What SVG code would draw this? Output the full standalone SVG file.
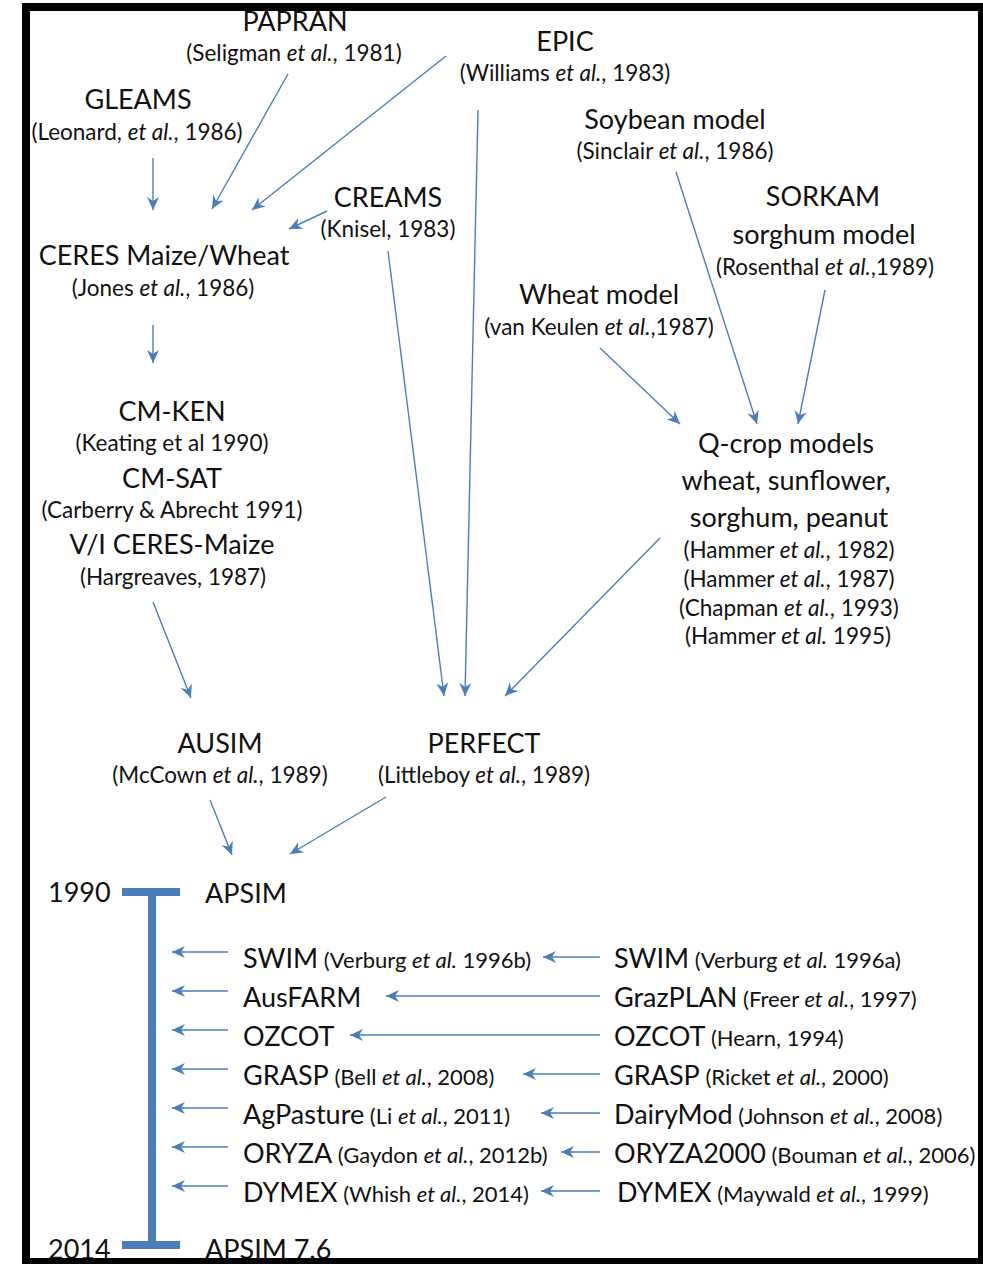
<svg xmlns="http://www.w3.org/2000/svg" width="983" height="1264" viewBox="0 0 983 1264">
<defs>
<style>
text{font-family:Lato,"Liberation Sans",sans-serif;fill:#111;}
.t{font-size:27px;}
.c{font-size:22.5px;}
.s{font-size:22px;}
.m{text-anchor:middle;}
.i{font-style:italic;}
.ln{fill:none;stroke:#4a7ebb;stroke-width:1.4;marker-end:url(#ah);}
.bar{fill:#4a7ebb;}
</style>
<marker id="ah" markerUnits="userSpaceOnUse" markerWidth="16" markerHeight="14" refX="13" refY="7" orient="auto">
<path d="M0,1 L13,7 L0,13 L4,7 Z" fill="#4a7ebb"/>
</marker>
</defs>
<rect width="983" height="1264" fill="#fff"/>

<g id="papran"><text class="t m" x="295" y="31">PAPRAN</text><text class="c m" x="294" y="61">(Seligman <tspan class="i">et al.</tspan>, 1981)</text></g>
<g id="gleams"><text class="t m" x="138" y="109">GLEAMS</text><text class="c m" x="137" y="140">(Leonard, <tspan class="i">et al.</tspan>, 1986)</text></g>
<g id="epic"><text class="t m" x="565" y="51">EPIC</text><text class="c m" x="565" y="81">(Williams <tspan class="i">et al.</tspan>, 1983)</text></g>
<g id="soybean"><text class="t m" x="675" y="129">Soybean model</text><text class="c m" x="675" y="159">(Sinclair <tspan class="i">et al.</tspan>, 1986)</text></g>
<g id="sorkam"><text class="t m" x="823" y="206">SORKAM</text><text class="t m" x="824" y="244">sorghum model</text><text class="c m" x="825" y="275">(Rosenthal <tspan class="i">et al.</tspan>,1989)</text></g>
<g id="wheat"><text class="t m" x="599" y="304">Wheat model</text><text class="c m" x="599" y="335">(van Keulen <tspan class="i">et al.</tspan>,1987)</text></g>
<g id="creams"><text class="t m" x="388" y="207">CREAMS</text><text class="c m" x="388" y="237">(Knisel, 1983)</text></g>
<g id="ceres"><text class="t m" x="164" y="265">CERES Maize/Wheat</text><text class="c m" x="163" y="296">(Jones <tspan class="i">et al.</tspan>, 1986)</text></g>
<g id="cm"><text class="t m" x="172" y="421">CM-KEN</text><text class="c m" x="172" y="451">(Keating et al 1990)</text><text class="t m" x="172" y="488">CM-SAT</text><text class="c m" x="172" y="518">(Carberry &amp; Abrecht 1991)</text><text class="t m" x="172" y="554">V/I CERES-Maize</text><text class="c m" x="173" y="585">(Hargreaves, 1987)</text></g>
<g id="qcrop"><text class="t m" x="786" y="453">Q-crop models</text><text class="t m" x="786" y="490">wheat, sunflower,</text><text class="t m" x="789" y="527">sorghum, peanut</text><text class="c m" x="789" y="558">(Hammer <tspan class="i">et al.</tspan>, 1982)</text><text class="c m" x="789" y="587">(Hammer <tspan class="i">et al.</tspan>, 1987)</text><text class="c m" x="789" y="616">(Chapman <tspan class="i">et al.</tspan>, 1993)</text><text class="c m" x="788" y="644">(Hammer <tspan class="i">et al.</tspan> 1995)</text></g>
<g id="ausim"><text class="t m" x="220" y="753">AUSIM</text><text class="c m" x="220" y="783">(McCown <tspan class="i">et al.</tspan>, 1989)</text></g>
<g id="perfect"><text class="t m" x="484" y="753">PERFECT</text><text class="c m" x="484" y="783">(Littleboy <tspan class="i">et al.</tspan>, 1989)</text></g>

<g id="timeline">
<rect class="bar" x="148" y="888" width="8" height="360"/>
<rect class="bar" x="122" y="888" width="58" height="8"/>
<rect class="bar" x="122" y="1241" width="58" height="8"/>
<text class="t" x="48" y="902">1990</text>
<text class="t" x="205" y="903">APSIM</text>
<text class="t" x="48" y="1259">2014</text>
<text class="t" x="205" y="1259">APSIM 7.6</text>
</g>

<g id="left-modules">
<text x="243" y="968"><tspan class="t">SWIM</tspan><tspan class="s"> (Verburg <tspan class="i">et al.</tspan> 1996b)</tspan></text>
<text x="243" y="1007"><tspan class="t">AusFARM</tspan></text>
<text x="243" y="1046"><tspan class="t">OZCOT</tspan></text>
<text x="243" y="1085"><tspan class="t">GRASP</tspan><tspan class="s"> (Bell <tspan class="i">et al.</tspan>, 2008)</tspan></text>
<text x="243" y="1124"><tspan class="t">AgPasture</tspan><tspan class="s"> (Li <tspan class="i">et al.</tspan>, 2011)</tspan></text>
<text x="243" y="1163"><tspan class="t">ORYZA</tspan><tspan class="s"> (Gaydon <tspan class="i">et al.</tspan>, 2012b)</tspan></text>
<text x="243" y="1202"><tspan class="t">DYMEX</tspan><tspan class="s"> (Whish <tspan class="i">et al.</tspan>, 2014)</tspan></text>
</g>
<g id="right-modules">
<text x="614" y="968"><tspan class="t">SWIM</tspan><tspan class="s"> (Verburg <tspan class="i">et al.</tspan> 1996a)</tspan></text>
<text x="614" y="1007"><tspan class="t">GrazPLAN</tspan><tspan class="s"> (Freer <tspan class="i">et al.</tspan>, 1997)</tspan></text>
<text x="614" y="1046"><tspan class="t">OZCOT</tspan><tspan class="s"> (Hearn, 1994)</tspan></text>
<text x="614" y="1085"><tspan class="t">GRASP</tspan><tspan class="s"> (Ricket <tspan class="i">et al.</tspan>, 2000)</tspan></text>
<text x="614" y="1124"><tspan class="t">DairyMod</tspan><tspan class="s"> (Johnson <tspan class="i">et al.</tspan>, 2008)</tspan></text>
<text x="614" y="1163"><tspan class="t">ORYZA2000</tspan><tspan class="s"> (Bouman <tspan class="i">et al.</tspan>, 2006)</tspan></text>
<text x="617" y="1202"><tspan class="t">DYMEX</tspan><tspan class="s"> (Maywald <tspan class="i">et al.</tspan>, 1999)</tspan></text>
</g>

<g id="connectors">
<line class="ln" x1="153" y1="158" x2="153" y2="210"/>
<line class="ln" x1="288" y1="74" x2="212" y2="209"/>
<line class="ln" x1="446" y1="56" x2="252" y2="210"/>
<line class="ln" x1="327" y1="211" x2="289" y2="229"/>
<line class="ln" x1="153" y1="325" x2="153" y2="363"/>
<line class="ln" x1="388" y1="251" x2="444" y2="696"/>
<line class="ln" x1="478" y1="110" x2="465" y2="696"/>
<line class="ln" x1="660" y1="538" x2="505" y2="696"/>
<line class="ln" x1="600" y1="348" x2="680" y2="424"/>
<line class="ln" x1="676" y1="172" x2="757" y2="424"/>
<line class="ln" x1="825" y1="290" x2="798" y2="424"/>
<line class="ln" x1="153" y1="602" x2="191" y2="698"/>
<line class="ln" x1="210" y1="800" x2="232" y2="855"/>
<line class="ln" x1="386" y1="797" x2="290" y2="854"/>
<line class="ln" x1="228" y1="952" x2="172" y2="952"/>
<line class="ln" x1="228" y1="991" x2="172" y2="991"/>
<line class="ln" x1="228" y1="1030" x2="172" y2="1030"/>
<line class="ln" x1="228" y1="1069" x2="172" y2="1069"/>
<line class="ln" x1="228" y1="1108" x2="172" y2="1108"/>
<line class="ln" x1="228" y1="1147" x2="172" y2="1147"/>
<line class="ln" x1="228" y1="1186" x2="172" y2="1186"/>
<line class="ln" x1="600" y1="957" x2="543" y2="957"/>
<line class="ln" x1="600" y1="996" x2="386" y2="996"/>
<line class="ln" x1="600" y1="1035" x2="350" y2="1035"/>
<line class="ln" x1="600" y1="1074" x2="523" y2="1074"/>
<line class="ln" x1="600" y1="1113" x2="541" y2="1113"/>
<line class="ln" x1="600" y1="1152" x2="561" y2="1152"/>
<line class="ln" x1="600" y1="1191" x2="541" y2="1191"/>
</g>

<rect x="26" y="7" width="956" height="1255" fill="none" stroke="#000" stroke-width="8"/>
</svg>
